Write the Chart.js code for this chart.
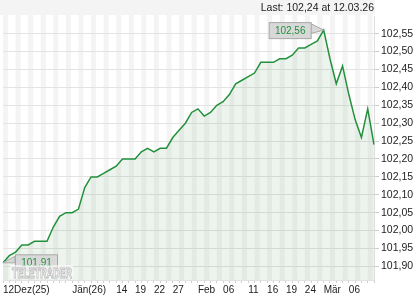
<!DOCTYPE html>
<html>
<head>
<meta charset="utf-8">
<script src="https://cdn.jsdelivr.net/npm/chart.js@4/dist/chart.umd.min.js"></script>
<style>
html, body { margin: 0; padding: 0; background: #fff; }
#wrap { width: 420px; height: 300px; }
</style>
</head>
<body>
<div id="wrap"><canvas id="myChart" width="420" height="300"></canvas></div>
<script>
//trading days on the chart
const dates = [
	'12.12.25','15.12.25','16.12.25','17.12.25','18.12.25','19.12.25','22.12.25','23.12.25','29.12.25','30.12.25',
	'02.01.26','05.01.26','06.01.26','07.01.26','08.01.26','09.01.26','12.01.26','13.01.26','14.01.26','15.01.26',
	'16.01.26','19.01.26','20.01.26','21.01.26','22.01.26','23.01.26','26.01.26','27.01.26','28.01.26','29.01.26',
	'30.01.26','02.02.26','03.02.26','04.02.26','05.02.26','06.02.26','09.02.26','10.02.26','11.02.26','12.02.26',
	'13.02.26','16.02.26','17.02.26','18.02.26','19.02.26','20.02.26','23.02.26','24.02.26','25.02.26','26.02.26',
	'27.02.26','02.03.26','03.03.26','04.03.26','05.03.26','06.03.26','09.03.26','10.03.26','11.03.26','12.03.26'
];

//closing prices, one per day
const prices = [
	101.91, 101.93, 101.94, 101.96, 101.96, 101.97, 101.97, 101.97, 102.01, 102.04,
	102.05, 102.05, 102.06, 102.12, 102.15, 102.15, 102.16, 102.17, 102.18, 102.20,
	102.20, 102.20, 102.22, 102.23, 102.22, 102.23, 102.23, 102.26, 102.28, 102.30,
	102.33, 102.34, 102.32, 102.33, 102.35, 102.36, 102.38, 102.41, 102.42, 102.43,
	102.44, 102.47, 102.47, 102.47, 102.48, 102.48, 102.49, 102.51, 102.51, 102.52,
	102.53, 102.56, 102.48, 102.41, 102.46, 102.38, 102.31, 102.26, 102.34, 102.24
];

//x axis labels and the day each one sits on
const labelDates = ['12.12.25','05.01.26','14.01.26','19.01.26','22.01.26','27.01.26','02.02.26','06.02.26','12.02.26','17.02.26','20.02.26','25.02.26','02.03.26','06.03.26'];
const labelTexts = ['12Dez(25)','Jän(26)','14','19','22','27','Feb','06','11','16','19','24','Mär','06'];

//y axis range and step
const Y_MIN = 101.862;
const Y_MAX = 102.598;
const Y_STEP = 0.05;

const FONT = '"Liberation Sans", Arial, sans-serif';
const LINE_COLOR = '#23913c';

var fmt = function(v) {
	return v.toFixed(2).replace('.', ',');
}

//header band, day stripes and the last quote text
var backdrop = {
	id: 'backdrop',
	beforeDraw: function(chart) {
		var ctx = chart.ctx, a = chart.chartArea, x = chart.scales.x;
		var step = x.getPixelForValue(1) - x.getPixelForValue(0);
		ctx.save();
		ctx.fillStyle = '#f4f4f4';
		ctx.fillRect(0, 0, a.right + 1, 15);
		for (var i = 0; i < dates.length; i += 2) {
			ctx.fillRect(x.getPixelForValue(i), 15, step * 0.8, a.bottom - 15);
		}
		var last = prices.length - 1;
		ctx.fillStyle = '#222';
		ctx.font = '10.5px ' + FONT;
		ctx.textAlign = 'right';
		ctx.textBaseline = 'middle';
		ctx.fillText('Last: ' + fmt(prices[last]) + ' at ' + dates[last], a.right, 8);
		ctx.restore();
	}
};

//draws a gray price flag with a pointer to (px,py)
var drawFlag = function(ctx, px, py, bx, by, text, side) {
	var bw = 42, bh = 16;
	ctx.fillStyle = '#d8d8d8';
	ctx.strokeStyle = '#a9a9a9';
	ctx.lineWidth = 1;
	ctx.beginPath();
	if (side == 'right') {
		ctx.moveTo(bx + bw, by + 1.5);
		ctx.lineTo(px, py);
		ctx.lineTo(bx + bw, by + 11.5);
	} else {
		ctx.moveTo(bx, by + 2);
		ctx.lineTo(px, py);
		ctx.lineTo(bx, by + 8.5);
	}
	ctx.closePath();
	ctx.fill();
	ctx.stroke();
	ctx.fillRect(bx + 0.5, by + 0.5, bw, bh);
	ctx.strokeRect(bx + 0.5, by + 0.5, bw, bh);
	ctx.fillStyle = LINE_COLOR;
	ctx.font = '10px ' + FONT;
	ctx.textAlign = 'center';
	ctx.textBaseline = 'middle';
	ctx.fillText(text, bx + bw / 2 + 0.5, by + bh / 2 + 1);
}

var flags = {
	id: 'flags',
	afterDatasetsDraw: function(chart) {
		var ctx = chart.ctx, x = chart.scales.x, y = chart.scales.y;
		var hi = prices.indexOf(Math.max.apply(null, prices));
		ctx.save();
		var hx = x.getPixelForValue(hi), hy = y.getPixelForValue(prices[hi]);
		drawFlag(ctx, hx, hy, hx - 55, hy - 8, fmt(prices[hi]), 'right');
		var fx = x.getPixelForValue(0), fy = y.getPixelForValue(prices[0]);
		drawFlag(ctx, fx, fy, fx + 12, fy - 8.5, fmt(prices[0]), 'left');

		//watermark
		ctx.fillStyle = 'rgba(255,255,255,0.6)';
		ctx.fillRect(10, 265, 63, 14);
		ctx.font = 'bold 15px ' + FONT;
		ctx.textAlign = 'left';
		ctx.textBaseline = 'alphabetic';
		var w = ctx.measureText('TELETRADER').width;
		ctx.translate(12, 278);
		ctx.scale(60 / w, 1);
		ctx.fillStyle = '#fff';
		ctx.strokeStyle = '#b8b8b8';
		ctx.lineWidth = 1;
		ctx.fillText('TELETRADER', 0, 0);
		ctx.strokeText('TELETRADER', 0, 0);
		ctx.restore();
	}
};

Chart.defaults.font.family = FONT;
Chart.defaults.font.size = 10.5;

var ctx = document.getElementById('myChart');
var chart = new Chart(ctx, {
	type: 'line',
	data: {
		labels: dates,
		datasets: [{
			data: prices,
			borderColor: LINE_COLOR,
			borderWidth: 1.5,
			backgroundColor: 'rgba(60,130,60,0.09)',
			fill: 'start',
			pointRadius: 0,
			tension: 0
		}]
	},
	options: {
		responsive: false,
		animation: false,
		devicePixelRatio: 1,
		layout: { padding: { left: 3, top: 16.5, right: 0, bottom: 0 } },
		plugins: {
			legend: { display: false },
			tooltip: { enabled: false }
		},
		scales: {
			x: {
				grid: { drawOnChartArea: false, tickLength: 3, color: '#d0d0d0' },
				border: { color: '#e2e2e2' },
				ticks: {
					autoSkip: false,
					maxRotation: 0,
					align: 'start',
					padding: 1,
					color: '#222',
					font: { size: 10 },
					callback: function(v, i) {
						var k = labelDates.indexOf(dates[i]);
						return k < 0 ? '' : labelTexts[k];
					}
				},
				afterFit: function(s) { s.height = 20; }
			},
			y: {
				position: 'right',
				min: Y_MIN,
				max: Y_MAX,
				grid: { color: '#e3e3e3', tickLength: 5, tickColor: '#cccccc' },
				border: { color: '#dddddd' },
				ticks: {
					stepSize: Y_STEP,
					includeBounds: false,
					padding: 2,
					color: '#222',
					callback: function(v) { return fmt(v); }
				},
				afterFit: function(s) { s.width = 46; }
			}
		}
	},
	plugins: [backdrop, flags]
});
</script>
</body>
</html>
